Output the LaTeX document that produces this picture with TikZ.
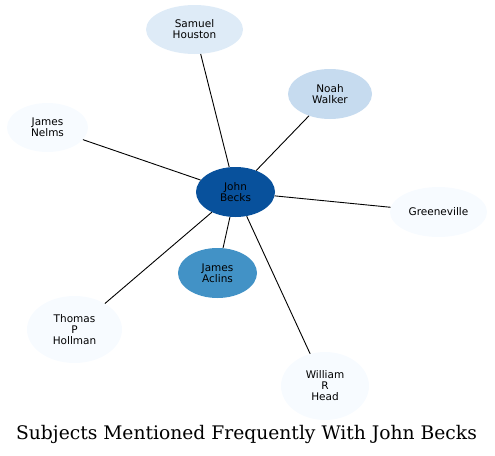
\documentclass[tikz,border=0pt]{standalone}
\usepackage{fontspec}
\newfontfamily\nodefont{DejaVu Sans}
\newfontfamily\titlefont{DejaVu Serif}
\usetikzlibrary{shapes.geometric}
\definecolor{cA}{HTML}{08519C}
\definecolor{cB}{HTML}{4292C6}
\definecolor{cC}{HTML}{C6DBEF}
\definecolor{cD}{HTML}{DEEBF7}
\definecolor{cE}{HTML}{F7FBFF}
\begin{document}
\begin{tikzpicture}[x=1pt,y=-1pt,
  ent/.style={ellipse,draw=none,inner sep=0pt,align=center,
    font=\nodefont\fontsize{10.5}{11}\selectfont},
  link/.style={draw=black,line width=0.9pt}]
\useasboundingbox (0,0) rectangle (495,455);
\node[ent,fill=cA,minimum width=79pt,minimum height=50pt] (jb) at (235.5,192) {John\\Becks};
\node[ent,fill=cD,minimum width=97pt,minimum height=49pt] (sh) at (194.5,29.5) {Samuel\\Houston};
\node[ent,fill=cC,minimum width=84pt,minimum height=50pt] (nw) at (330,94) {Noah\\Walker};
\node[ent,fill=cE,minimum width=81pt,minimum height=49pt] (jn) at (47.5,127.5) {James\\Nelms};
\node[ent,fill=cE,minimum width=97pt,minimum height=50pt] (gv) at (438.5,212) {Greeneville};
\node[ent,fill=cB,minimum width=79pt,minimum height=50pt] (ja) at (217.5,273) {James\\Aclins};
\node[ent,fill=cE,minimum width=95pt,minimum height=67pt] (th) at (74.5,329.5) {Thomas\\P\\Hollman};
\node[ent,fill=cE,minimum width=88pt,minimum height=68pt] (wh) at (325,386) {William\\R\\Head};
\draw[link] (jb) -- (sh);
\draw[link] (jb) -- (nw);
\draw[link] (jb) -- (jn);
\draw[link] (jb) -- (gv);
\draw[link] (jb) -- (ja);
\draw[link] (jb) -- (th);
\draw[link] (jb) -- (wh);
\node[font=\titlefont\fontsize{18.7}{22}\selectfont,inner sep=0pt] (title) at (246.5,434) {Subjects Mentioned Frequently With John Becks};
\end{tikzpicture}
\end{document}
